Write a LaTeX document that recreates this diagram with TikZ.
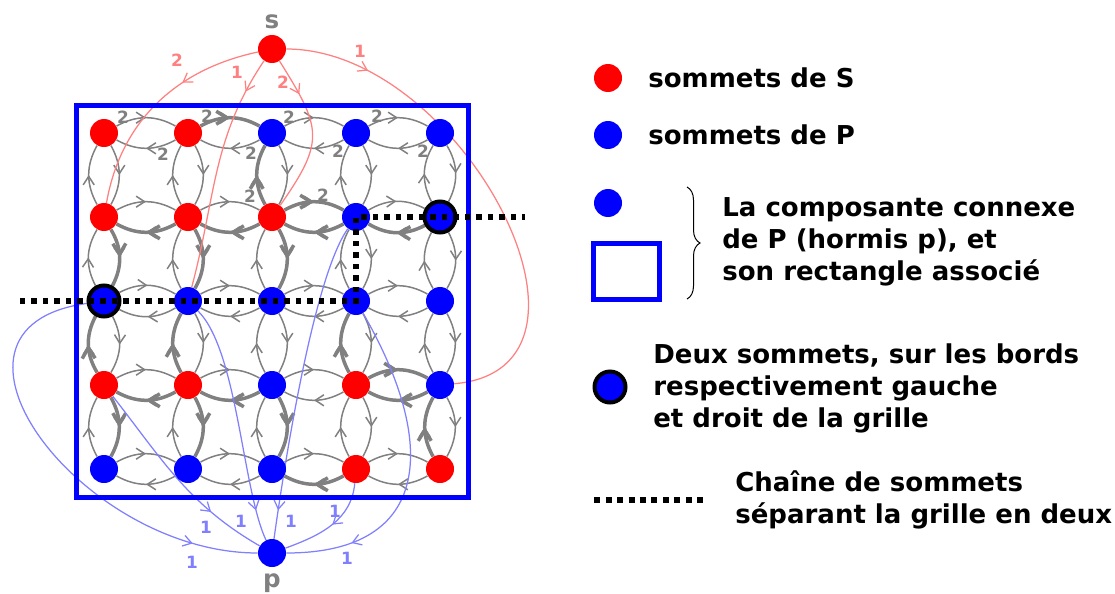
\documentclass[tikz,border=0pt]{standalone}
\usepackage{fontspec}
\setmainfont{DejaVu Sans}
\usetikzlibrary{arrows.meta}
\usetikzlibrary{decorations.markings}
\usetikzlibrary{decorations.pathreplacing}

\definecolor{gris}{HTML}{808080}
\definecolor{rose}{HTML}{FF8080}
\definecolor{bleuclair}{HTML}{8080FF}

\pgfdeclarelayer{fond}
\pgfsetlayers{fond,main}

\tikzset{
  sommet/.style={shape=circle, fill=#1, inner sep=0pt, minimum size=0.56cm},
  bord/.style={shape=circle, fill=blue, draw=black, line width=0.08cm, inner sep=0pt, minimum size=0.62cm},
  fleche/.style={postaction={decorate}, decoration={markings,
      mark=at position #1 with {\arrow{Straight Barb[length=0.17cm,width=0.22cm]}}}},
  fleche gras/.style={postaction={decorate}, decoration={markings,
      mark=at position #1 with {\arrow{Straight Barb[length=0.21cm,width=0.26cm]}}}},
  lien/.style={gris, line width=0.03cm, bend left=29, fleche=0.5},
  lien gras/.style={gris, line width=0.07cm, bend left=29, fleche gras=0.5},
  versS/.style={rose, line width=0.025cm, fleche=#1},
  versP/.style={bleuclair, line width=0.025cm, fleche=#1},
  chaine/.style={black, line width=0.11cm, dash pattern=on 0.11cm off 0.12cm},
  poids/.style={font=\fontsize{9.6pt}{11pt}\bfseries, inner sep=0pt},
  etiq/.style={text=gris, font=\fontsize{14pt}{16pt}\bfseries},
  texte/.style={font=\fontsize{14.8pt}{18.3pt}\bfseries, align=left, inner sep=0pt, anchor=west}
}

\begin{document}
\begin{tikzpicture}[x=0.02cm, y=0.02cm]
    \useasboundingbox (0,0) rectangle (1115,593);

    % la grille
    \foreach \c/\col in {0/red,1/red,2/blue,3/blue,4/blue}
        \node[sommet=\col] (v\c0) at ({104+84*\c},460) {};
    \foreach \c/\col in {0/red,1/red,2/red,3/blue}
        \node[sommet=\col] (v\c1) at ({104+84*\c},376) {};
    \node[bord] (v41) at (440,376) {};
    \node[bord] (v02) at (104,292) {};
    \foreach \c in {1,2,3,4}
        \node[sommet=blue] (v\c2) at ({104+84*\c},292) {};
    \foreach \c/\col in {0/red,1/red,2/blue,3/red,4/blue}
        \node[sommet=\col] (v\c3) at ({104+84*\c},208) {};
    \foreach \c/\col in {0/blue,1/blue,2/blue,3/red,4/red}
        \node[sommet=\col] (v\c4) at ({104+84*\c},124) {};

    \node[sommet=red, label={[etiq]above:s}] (s) at (272,544) {};
    \node[sommet=blue, label={[etiq]below:p}] (p) at (272,40) {};

    \begin{pgfonlayer}{fond}
        \foreach \r in {0,...,4}
            \foreach \a/\b in {0/1,1/2,2/3,3/4} {
                \draw[lien] (v\a\r) to (v\b\r);
                \draw[lien] (v\b\r) to (v\a\r);
                \draw[lien] (v\r\a) to (v\r\b);
                \draw[lien] (v\r\b) to (v\r\a);
            }
        \foreach \a/\b in {v10/v20, v21/v20, v11/v01, v21/v11, v31/v21, v41/v31, v21/v31,
                           v01/v02, v11/v12, v21/v22, v03/v02, v13/v12, v33/v32,
                           v13/v03, v23/v13, v43/v33, v33/v43,
                           v03/v04, v13/v14, v23/v24, v44/v43, v34/v24}
            \draw[lien gras] (\a) to (\b);

        \draw[versS=0.36] (s) to[out=192, in=80] (v01);
        \draw[versS=0.15] (s) to[out=236, in=75] (v12);
        \draw[versS=0.24] (s) to[out=-58, in=55, looseness=1.4] (v21);
        \draw[versS=0.17] (s) to[out=0, in=5, looseness=1.2] (v43);

        \draw[versP=0.85] (v02) to[out=188, in=180, looseness=1.5] (p);
        \draw[versP=0.72] (v03) to[out=-52, in=150] (p);
        \draw[versP=0.87] (v12) to[out=-45, in=115, looseness=0.6] (p);
        \draw[versP=0.91] (v31) to[out=235, in=82, looseness=0.5] (p);
        \draw[versP=0.48] (v34) to[out=-95, in=20] (p);
        \draw[versP=0.8] (v32) to[out=-60, in=0, looseness=1.5] (p);
    \end{pgfonlayer}

    % poids
    \foreach \x/\y [count=\i] in {123/476, 163/439, 207/477, 251/440, 289/476,
                                  338/442, 377/477, 423/442, 250/397, 323/398}
        \node[poids, text=gris] (g\i) at (\x,\y) {2};
    \foreach \x/\y/\t [count=\i] in {177/533/2, 237/521/1, 283/511/2, 360/542/1}
        \node[poids, text=rose] (ps\i) at (\x,\y) {\t};
    \foreach \x/\y [count=\i] in {192/31, 206/66, 241/72, 291/72, 335/82, 347/35}
        \node[poids, text=bleuclair] (pp\i) at (\x,\y) {1};

    \draw[blue, line width=0.1cm] (76,96) rectangle (468,488);

    \coordinate (gauche) at (20,292);
    \coordinate (droite) at (525,376);
    \draw[chaine] (gauche) -- (v32.center) -- (v31.center) -- (droite);

    % legende
    \node[sommet=red] (lS) at (608,515) {};
    \node[texte] (tS) at (648,515) {sommets de S};
    \node[sommet=blue] (lP) at (608,458) {};
    \node[texte] (tP) at (648,458) {sommets de P};
    \node[sommet=blue] (lC) at (608,390) {};
    \draw[blue, line width=0.1cm] (593,294) rectangle (659,349.5);
    \draw[decorate, decoration={brace, amplitude=0.26cm}, line width=0.02cm] (687,406) -- (687,294);
    \node[texte] (tC) at (722,351) {La composante connexe\\de P (hormis p), et\\son rectangle associé};
    \node[bord] (lB) at (610,206) {};
    \node[texte] (tB) at (653,204.5) {Deux sommets, sur les bords\\respectivement gauche\\et droit de la grille};
    \coordinate (c1) at (594,93);
    \coordinate (c2) at (706,93);
    \draw[chaine, dash pattern=on 0.12cm off 0.11cm] (c1) -- (c2);
    \node[texte] (tD) at (735,93) {Chaîne de sommets\\séparant la grille en deux};

\end{tikzpicture}
\end{document}
